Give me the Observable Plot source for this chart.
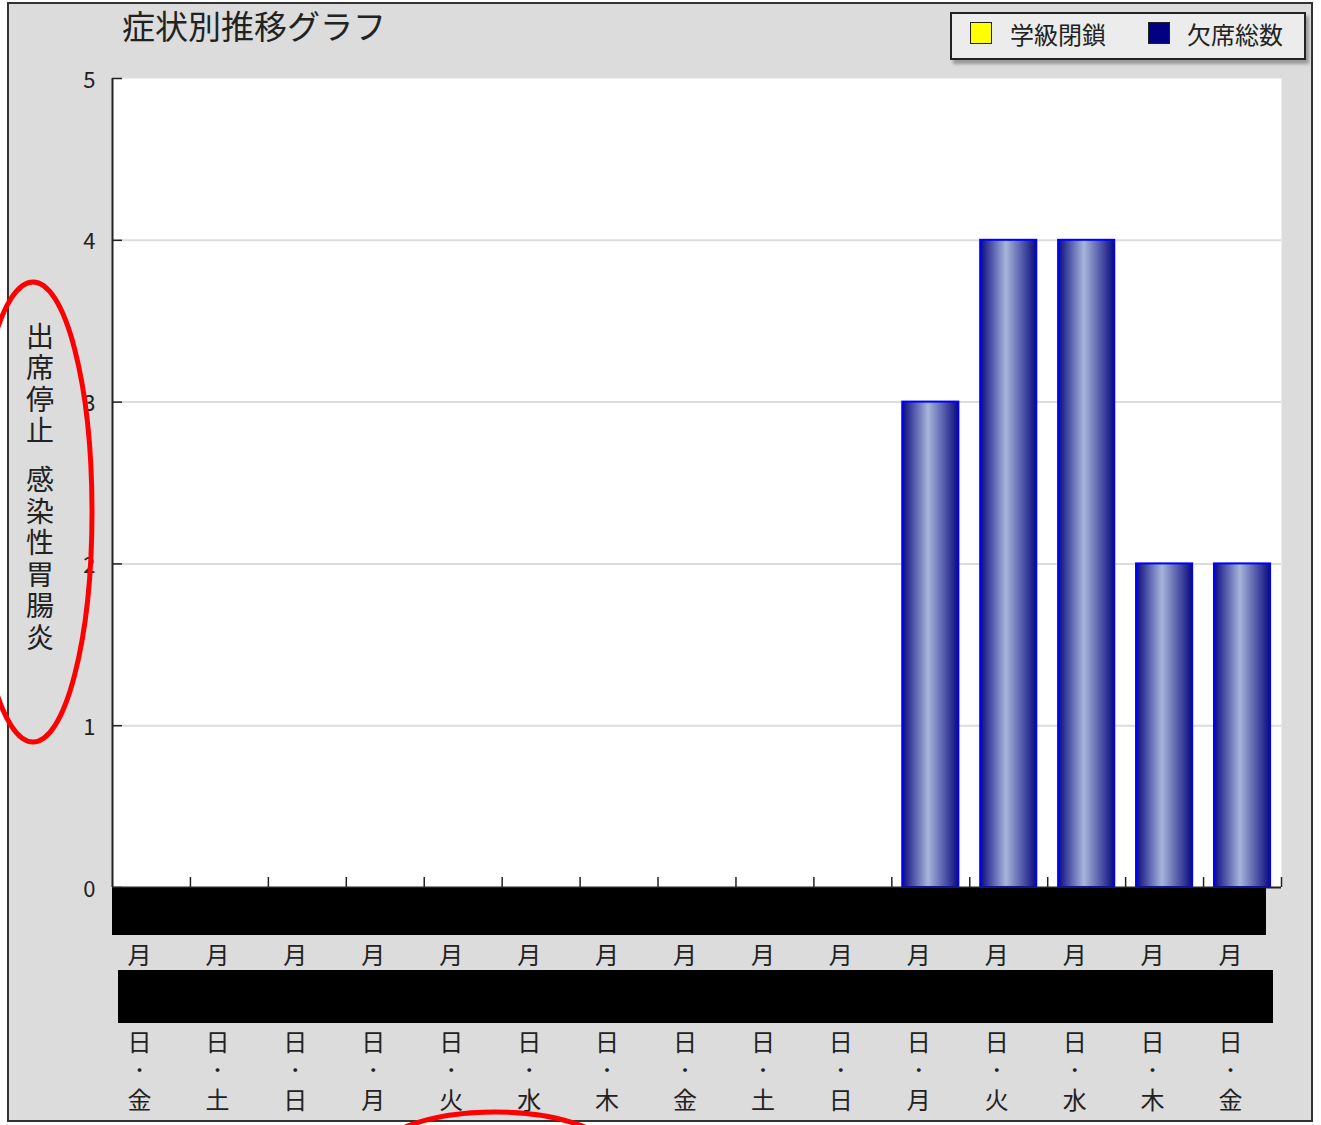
<!DOCTYPE html>
<html>
<head>
<meta charset="utf-8">
<script src="https://cdn.jsdelivr.net/npm/d3@7"></script>
<script src="https://cdn.jsdelivr.net/npm/@observablehq/plot@0.6"></script>
<style>
  html, body { margin: 0; padding: 0; background: #fff; overflow: hidden; }
  body { font-family: "Noto Sans CJK JP", sans-serif; }
  #wrap { position: relative; width: 1321px; height: 1125px; overflow: hidden; }
  #frame { position: absolute; left: 7px; top: 2px; width: 1306px; height: 1120px; box-sizing: border-box; border: 2px solid #333; background: #dcdcdc; }
  #chart { position: absolute; left: 0; top: 0; }
  #title { position: absolute; left: 122px; top: 9px; font-size: 33px; line-height: 1; color: #222; white-space: nowrap; }
  #legend { position: absolute; left: 950px; top: 12px; width: 356px; height: 48px; box-sizing: border-box; border: 2px solid #222; background: #ececec; box-shadow: 3px 4px 3px #9a9a9a; }
  .sw { position: absolute; top: 8px; width: 22px; height: 22px; box-sizing: border-box; border: 1px solid #222; }
  .lt { position: absolute; top: 7px; font-size: 24px; line-height: 1.1; color: #222; white-space: nowrap; }
  #ylabel { position: absolute; left: 26px; top: 322px; writing-mode: vertical-rl; font-size: 28px; letter-spacing: 3.5px; word-spacing: 8px; line-height: 1; color: #222; white-space: nowrap; }
  .redact { position: absolute; background: #000; }
  #ann { position: absolute; left: 0; top: 0; pointer-events: none; }
</style>
</head>
<body>
<div id="wrap">
  <div id="frame"></div>
  <div id="chartHost"></div>
  <div id="title"></div>
  <div id="legend"></div>
  <div id="ylabel"></div>
  <div class="redact" style="left:112px;top:888px;width:1154px;height:47px;"></div>
  <div class="redact" style="left:118px;top:970px;width:1155px;height:53px;"></div>
  <svg id="ann" width="1321" height="1125">
    <ellipse cx="33" cy="512" rx="59" ry="230" fill="none" stroke="#ff0000" stroke-width="5"></ellipse>
    <ellipse cx="495" cy="1157" rx="120" ry="45" fill="none" stroke="#ff0000" stroke-width="5"></ellipse>
  </svg>
</div>
<script>
// ---- data ----
const titleText = "症状別推移グラフ";
const yAxisLabel = "出席停止 感染性胃腸炎";
const seriesNames = ["学級閉鎖", "欠席総数"];
const seriesColors = ["#ffff00", "#000080"];
const weekdays = ["金","土","日","月","火","水","木","金","土","日","月","火","水","木","金"];
const absences = [0,0,0,0,0,0,0,0,0,0,3,4,4,2,2];
const closures = [0,0,0,0,0,0,0,0,0,0,0,0,0,0,0];
const yTicks = [0,1,2,3,4,5];
const monthChar = "月";
const dayChar = "日";
const sepChar = "・";

const data = weekdays.map((w, i) => ({i, w, v: absences[i], c: closures[i]}));
const idx = weekdays.map((_, i) => i);

// ---- text pieces ----
document.getElementById("title").textContent = titleText;
document.getElementById("ylabel").textContent = yAxisLabel;
const legend = document.getElementById("legend");
const swLeft = [18, 196], txtLeft = [58, 235];
seriesNames.forEach((name, k) => {
  const sw = document.createElement("div");
  sw.className = "sw"; sw.style.left = swLeft[k] + "px"; sw.style.background = seriesColors[k];
  const t = document.createElement("div");
  t.className = "lt"; t.style.left = txtLeft[k] + "px"; t.textContent = name;
  legend.appendChild(sw); legend.appendChild(t);
});

// ---- chart ----
const W = 1321, H = 1125, mL = 112, mT = 78, mR = 40, mB = 238;
const step = (W - mL - mR) / weekdays.length;

function gradientDefs() {
  const ns = "http://www.w3.org/2000/svg";
  const defs = document.createElementNS(ns, "defs");
  const g = document.createElementNS(ns, "linearGradient");
  g.setAttribute("id", "barGrad");
  g.setAttribute("x1", "0"); g.setAttribute("y1", "0");
  g.setAttribute("x2", "1"); g.setAttribute("y2", "0");
  [["0", "#0a0a80"], ["0.46", "#a6b6da"], ["1", "#0a0a80"]].forEach(([o, c]) => {
    const s = document.createElementNS(ns, "stop");
    s.setAttribute("offset", o); s.setAttribute("stop-color", c);
    g.appendChild(s);
  });
  defs.appendChild(g);
  return defs;
}

const chart = Plot.plot({
  width: W, height: H,
  marginLeft: mL, marginTop: mT, marginRight: mR, marginBottom: mB,
  style: {background: "transparent", fontFamily: "Noto Sans CJK JP", color: "#222"},
  x: {type: "band", domain: idx, paddingInner: 0.28, paddingOuter: 0.14, round: false, axis: null, label: null},
  y: {domain: [0, 5], axis: null, label: null},
  marks: [
    gradientDefs,
    Plot.frame({fill: "white", stroke: "none"}),
    Plot.gridY([1, 2, 3, 4], {stroke: "#dcdcdc", strokeOpacity: 1, strokeWidth: 2}),
    Plot.barY(data.filter(d => d.v > 0), {x: "i", y: "v", fill: "url(#barGrad)", stroke: "#0000ff", strokeWidth: 2}),
    Plot.axisY(yTicks, {tickSize: 10, dx: 10, fill: "none", stroke: "#222", strokeWidth: 1.5, label: null}),
    Plot.axisY(yTicks, {tickSize: 0, tickPadding: 17, fontSize: 22, dy: 2, fill: "#222", tickFormat: d => String(d), label: null}),
    Plot.axisX(idx, {tickSize: 10, dx: step / 2, dy: -10, fill: "none", stroke: "#222", strokeWidth: 1.5, label: null}),
    Plot.ruleY([0], {stroke: "#222", strokeWidth: 2}),
    Plot.ruleX([0], {dx: -step / 2, stroke: "#222", strokeWidth: 2}),
    Plot.text(data, {x: "i", frameAnchor: "bottom", dy: 76, dx: -12, text: () => monthChar, fontSize: 24, fill: "#222"}),
    Plot.text(data, {x: "i", frameAnchor: "bottom", dy: 163, dx: -12, text: () => dayChar, fontSize: 24, fill: "#222"}),
    Plot.text(data, {x: "i", frameAnchor: "bottom", dy: 189, dx: -12, text: () => sepChar, fontSize: 18, fill: "#222"}),
    Plot.text(data, {x: "i", frameAnchor: "bottom", dy: 221, dx: -12, text: "w", fontSize: 24, fill: "#222"})
  ]
});
chart.id = "chart";
document.getElementById("chartHost").appendChild(chart);
</script>
</body>
</html>
